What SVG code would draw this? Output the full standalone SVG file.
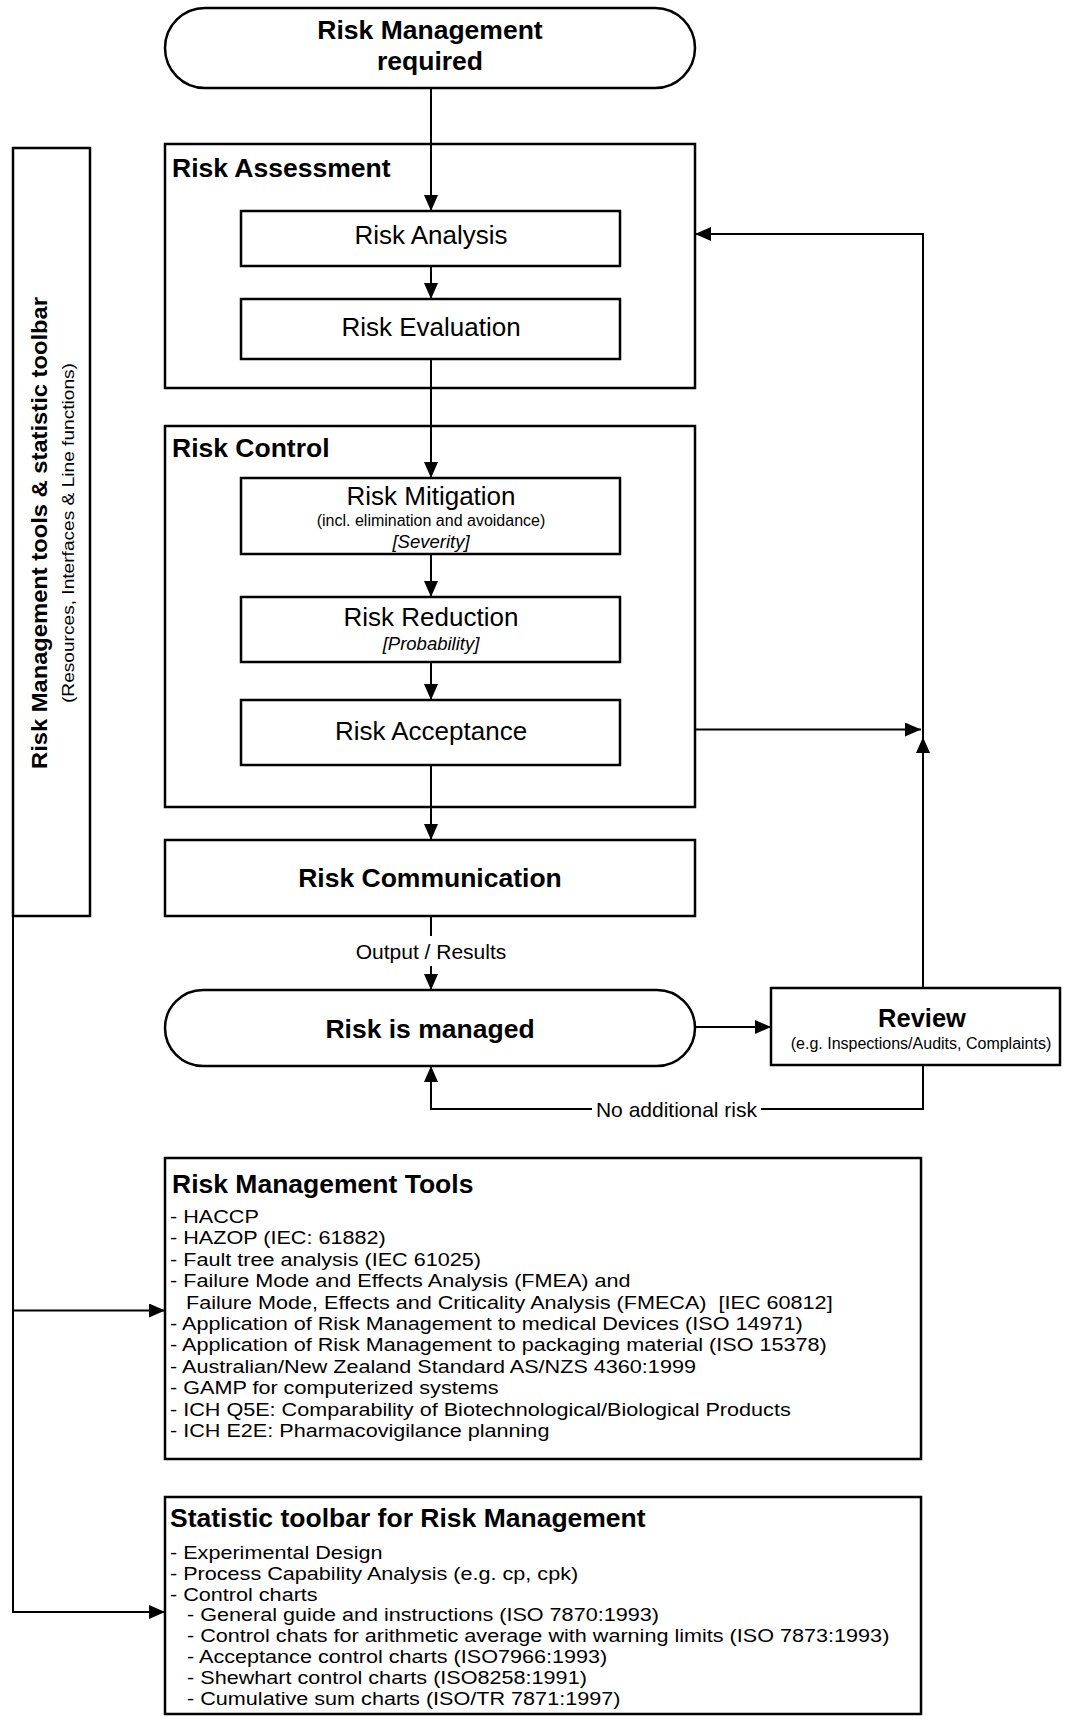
<svg xmlns="http://www.w3.org/2000/svg" width="1067" height="1719" viewBox="0 0 1067 1719">
<defs>
<marker id="arr" markerUnits="userSpaceOnUse" markerWidth="16" markerHeight="14" refX="16" refY="7" orient="auto"><path d="M0,0 L16,7 L0,14 z" fill="#000"/></marker>
<style>
.box{fill:#fff;stroke:#000;stroke-width:2.5}
.ln{fill:none;stroke:#000;stroke-width:2}
.arrow{marker-end:url(#arr)}
text{font-family:"Liberation Sans",Arial,sans-serif;fill:#000}
.b{font-weight:bold;font-size:26.5px}
.r{font-size:26px}
.c{text-anchor:middle}
.s{font-size:16px}
.i{font-style:italic;font-size:18.5px}
.m{font-size:21px}
.li{font-size:18.5px}
</style>
</defs>
<rect width="1067" height="1719" fill="#fff"/>

<g id="start">
<rect class="box" x="165" y="8" width="530" height="80" rx="40"/>
<text class="b c" x="430" y="39">Risk Management</text>
<text class="b c" x="430" y="70">required</text>
</g>

<g id="risk-assessment">
<rect class="box" x="165" y="144" width="530" height="244"/>
<text class="b" x="172" y="176.5">Risk Assessment</text>
</g>
<g id="risk-analysis">
<rect class="box" x="241" y="211" width="379" height="55"/>
<text class="r c" x="431" y="244">Risk Analysis</text>
</g>
<g id="risk-evaluation">
<rect class="box" x="241" y="299" width="379" height="60"/>
<text class="r c" x="431" y="336">Risk Evaluation</text>
</g>

<g id="risk-control">
<rect class="box" x="165" y="426" width="530" height="381"/>
<text class="b" x="172" y="456.5">Risk Control</text>
</g>
<g id="risk-mitigation">
<rect class="box" x="241" y="478" width="379" height="76"/>
<text class="r c" x="431" y="505">Risk Mitigation</text>
<text class="s c" x="431" y="526">(incl. elimination and avoidance)</text>
<text class="i c" x="431" y="548">[Severity]</text>
</g>
<g id="risk-reduction">
<rect class="box" x="241" y="597" width="379" height="65"/>
<text class="r c" x="431" y="626">Risk Reduction</text>
<text class="i c" x="431" y="650">[Probability]</text>
</g>
<g id="risk-acceptance">
<rect class="box" x="241" y="700" width="379" height="65"/>
<text class="r c" x="431" y="740">Risk Acceptance</text>
</g>

<g id="risk-communication">
<rect class="box" x="165" y="840" width="530" height="76"/>
<text class="b c" x="430" y="886.5">Risk Communication</text>
</g>

<g id="risk-managed">
<rect class="box" x="165" y="990" width="530" height="76" rx="38"/>
<text class="b c" x="430" y="1037.5">Risk is managed</text>
</g>

<g id="review">
<rect class="box" x="771" y="988" width="289" height="77"/>
<text class="c" x="922" y="1027" style="font-weight:bold;font-size:25.5px">Review</text>
<text class="s c" x="921" y="1049">(e.g. Inspections/Audits, Complaints)</text>
</g>

<g id="toolbar">
<rect class="box" x="13" y="148" width="77" height="768"/>
<text class="c" transform="translate(47,533) rotate(-90)" style="font-weight:bold;font-size:22px" textLength="472" lengthAdjust="spacingAndGlyphs">Risk Management tools &amp; statistic toolbar</text>
<text class="c" transform="translate(74,533) rotate(-90)" style="font-size:16.5px" textLength="340" lengthAdjust="spacingAndGlyphs">(Resources, Interfaces &amp; Line functions)</text>
</g>

<g id="tools">
<rect class="box" x="165" y="1158" width="756" height="301"/>
<text class="b" x="172" y="1193">Risk Management Tools</text>
<g transform="translate(170,0) scale(1.1676,1)">
<text class="li" x="0" y="1223">- HACCP</text>
<text class="li" x="0" y="1244.4">- HAZOP (IEC: 61882)</text>
<text class="li" x="0" y="1265.8">- Fault tree analysis (IEC 61025)</text>
<text class="li" x="0" y="1287.2">- Failure Mode and Effects Analysis (FMEA) and</text>
<text class="li" x="13.7" y="1308.6">Failure Mode, Effects and Criticality Analysis (FMECA) &#160;[IEC 60812]</text>
<text class="li" x="0" y="1330">- Application of Risk Management to medical Devices (ISO 14971)</text>
<text class="li" x="0" y="1351.4">- Application of Risk Management to packaging material (ISO 15378)</text>
<text class="li" x="0" y="1372.8">- Australian/New Zealand Standard AS/NZS 4360:1999</text>
<text class="li" x="0" y="1394.2">- GAMP for computerized systems</text>
<text class="li" x="0" y="1415.6">- ICH Q5E: Comparability of Biotechnological/Biological Products</text>
<text class="li" x="0" y="1437">- ICH E2E: Pharmacovigilance planning</text>
</g>
</g>

<g id="stats">
<rect class="box" x="165" y="1497" width="756" height="217"/>
<text class="b" x="170" y="1527">Statistic toolbar for Risk Management</text>
<g transform="translate(170,0) scale(1.1676,1)">
<text class="li" x="0" y="1559">- Experimental Design</text>
<text class="li" x="0" y="1579.8">- Process Capability Analysis (e.g. cp, cpk)</text>
<text class="li" x="0" y="1600.6">- Control charts</text>
<text class="li" x="14.6" y="1621.4">- General guide and instructions (ISO 7870:1993)</text>
<text class="li" x="14.6" y="1642.2">- Control chats for arithmetic average with warning limits (ISO 7873:1993)</text>
<text class="li" x="14.6" y="1663">- Acceptance control charts (ISO7966:1993)</text>
<text class="li" x="14.6" y="1683.8">- Shewhart control charts (ISO8258:1991)</text>
<text class="li" x="14.6" y="1704.6">- Cumulative sum charts (ISO/TR 7871:1997)</text>
</g>
</g>

<g id="connectors">
<path class="ln arrow" d="M431,88 V211"/>
<path class="ln arrow" d="M431,266 V299"/>
<path class="ln arrow" d="M431,359 V478"/>
<path class="ln arrow" d="M431,554 V597"/>
<path class="ln arrow" d="M431,662 V700"/>
<path class="ln arrow" d="M431,765 V840"/>
<path class="ln" d="M431,916 V936"/>
<text class="m c" x="431" y="958.5">Output / Results</text>
<path class="ln arrow" d="M431,966 V990"/>
<path class="ln arrow" d="M695,1027 H771"/>
<path class="ln arrow" d="M923,988 V737"/>
<path class="ln arrow" d="M923,737 V234 H695"/>
<path class="ln arrow" d="M695,729.5 H921"/>
<path class="ln" d="M923,1065 V1109 H761"/>
<text class="m c" x="676.5" y="1116.5">No additional risk</text>
<path class="ln arrow" d="M592,1109 H431 V1066"/>
<path class="ln arrow" d="M13,916 V1612 H165"/>
<path class="ln arrow" d="M13,1310.5 H165"/>
</g>
</svg>
